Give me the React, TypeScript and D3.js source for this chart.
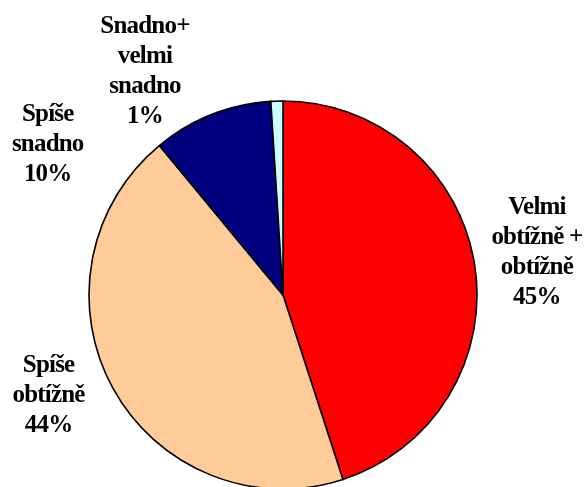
import * as d3 from 'd3';

// slices, clockwise from 12 o'clock
const categories = ['Velmi obtížně + obtížně', 'Spíše obtížně', 'Spíše snadno', 'Snadno+ velmi snadno'];
const values = [45, 44, 10, 1];
const labelLines = [
  ['Velmi', 'obtížně +', 'obtížně', '45%'],
  ['Spíše', 'obtížně', '44%'],
  ['Spíše', 'snadno', '10%'],
  ['Snadno+', 'velmi', 'snadno', '1%'],
];
const colors = ['#ff0000', '#ffcc99', '#000080', '#ccffff'];

const width = 584;
const height = 487;
const cx = 283;
const cy = 295;
const r = 194;
const lineH = 30;

// Excel-style label placement nudges from the outer centroid
const nudge: [number, number][] = [
  [1, -5],
  [-10, -25],
  [-141, 85],
  [-130, 30],
];

type Slice = { name: string; value: number; lines: string[]; color: string };

export default function App() {
  const data: Slice[] = categories.map((c, i) => ({ name: c, value: values[i], lines: labelLines[i], color: colors[i] }));

  const pie = d3
    .pie<Slice>()
    .value((d) => d.value)
    .sort(null)
    .startAngle(0)
    .endAngle(2 * Math.PI);
  const arcs = pie(data);
  const arc = d3.arc<d3.PieArcDatum<Slice>>().innerRadius(0).outerRadius(r);
  const labelArc = d3
    .arc<d3.PieArcDatum<Slice>>()
    .innerRadius(r * 1.32)
    .outerRadius(r * 1.32);

  const labels = arcs.flatMap((a, i) => {
    const [x, y] = labelArc.centroid(a);
    const n = a.data.lines.length;
    return a.data.lines.map((ln, j) => ({
      key: `l${i}-${j}`,
      text: ln,
      x: cx + x + nudge[i][0],
      y: cy + y + nudge[i][1] + (j - (n - 1) / 2) * lineH + 9,
    }));
  });

  return (
    <svg width={width} height={height} style={{ position: 'fixed', left: 0, top: 0 }}>
      <g transform={`translate(${cx},${cy})`}>
        {arcs.map((a, i) => (
          <path
            key={i}
            d={arc(a) || ''}
            fill={a.data.color}
            stroke="#000"
            strokeWidth={1.6}
            strokeLinejoin="round"
          />
        ))}
      </g>
      {labels.map((l) => (
        <text
          key={l.key}
          x={l.x}
          y={l.y}
          textAnchor="middle"
          fontFamily="Liberation Serif"
          fontWeight="bold"
          fontSize={25}
          letterSpacing={-0.8}
          fill="#000"
        >
          {l.text}
        </text>
      ))}
    </svg>
  );
}
